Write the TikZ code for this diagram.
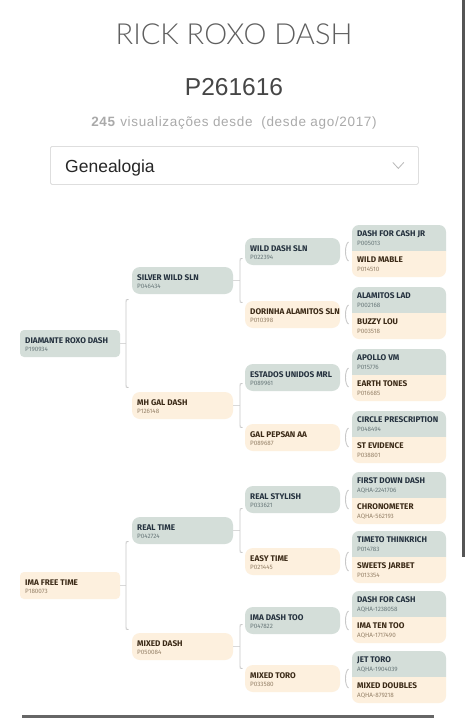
\documentclass[tikz,border=0pt]{standalone}
\usepackage{fontspec}
\setmainfont{Liberation Sans}
\newfontfamily\firafont{Fira Sans}
\newfontfamily\viewfont[LetterSpace=5]{Liberation Sans}
\IfFontExistsTF{Lato Light}{\newfontfamily\thinfont{Lato Light}}{\newfontfamily\thinfont{Liberation Sans}}
\usetikzlibrary{calc}
\definecolor{gg}{RGB}{212,222,217}
\definecolor{cr}{RGB}{253,240,222}
\definecolor{ggtext}{RGB}{37,50,63}
\definecolor{crtext}{RGB}{59,42,23}
\definecolor{ggcode}{RGB}{105,120,122}
\definecolor{crcode}{RGB}{150,130,105}
\definecolor{brkcol}{RGB}{200,200,200}
\definecolor{barcol}{RGB}{85,85,85}
\definecolor{titlecol}{RGB}{95,95,95}
\definecolor{regcol}{RGB}{70,70,70}
\definecolor{viewcol}{RGB}{170,170,170}
\definecolor{selborder}{RGB}{222,222,222}
\definecolor{chevcol}{RGB}{185,185,185}
\tikzset{
  box/.style={minimum height=27pt, inner sep=0pt, outer sep=0pt, draw=none},
  half/.style={minimum height=26pt, minimum width=94pt, inner sep=0pt, outer sep=0pt, draw=none},
  nm/.style={inner sep=0pt, font=\firafont\bfseries\fontsize{8.2}{8}\selectfont},
  cd/.style={inner sep=0pt, font=\firafont\fontsize{6.3}{6}\selectfont},
  brk/.style={draw=brkcol, line width=0.9pt},
  tick/.style={draw=brkcol!70, line width=0.7pt},
}
% single node: id, colour, x, ytop, width, radius, name, code
\newcommand\hnode[8]{%
  \node[box, fill=#2, rounded corners=#6pt, minimum width=#5pt, anchor=north west] (#1) at (#3,#4) {};
  \node[nm, text=#2text, anchor=base west] (#1n) at ($(#1.north west)+(5,13.5)$) {#7};
  \node[cd, text=#2code, anchor=base west] (#1c) at ($(#1.north west)+(5,21.5)$) {#8};
}
% pair: id, x, ytop, name1, code1, name2, code2
\newcommand\hpair[7]{%
  \node[half, anchor=north west] (#1a) at (#2,#3) {};
  \node[half, anchor=north west] (#1b) at (#2,#3+26) {};
  \fill[gg] (#1a.south west) -- ([yshift=-7pt]#1a.north west) arc[start angle=180, end angle=90, radius=7pt]
     -- ([xshift=-7pt]#1a.north east) arc[start angle=90, end angle=0, radius=7pt] -- (#1a.south east) -- cycle;
  \fill[cr] (#1b.north west) -- ([yshift=7pt]#1b.south west) arc[start angle=180, end angle=270, radius=7pt]
     -- ([xshift=-7pt]#1b.south east) arc[start angle=270, end angle=360, radius=7pt] -- (#1b.north east) -- cycle;
  \node[nm, text=ggtext, anchor=base west] (#1an) at ($(#1a.north west)+(5,11)$) {#4};
  \node[cd, text=ggcode, anchor=base west] (#1ac) at ($(#1a.north west)+(5,20)$) {#5};
  \node[nm, text=crtext, anchor=base west] (#1bn) at ($(#1b.north west)+(5,11)$) {#6};
  \node[cd, text=crcode, anchor=base west] (#1bc) at ($(#1b.north west)+(5,20)$) {#7};
}
% bracket: parent, dx, half height
\newcommand\hbrk[3]{%
  \draw[tick] (#1.east) -- ($(#1.east)+(#2,0)$);
  \draw[brk] ($(#1.east)+(#2+2.5,-#3)$) .. controls ($(#1.east)+(#2,-#3)$) .. ($(#1.east)+(#2,-#3+2.5)$)
     -- ($(#1.east)+(#2,#3-2.5)$) .. controls ($(#1.east)+(#2,#3)$) .. ($(#1.east)+(#2+2.5,#3)$);
}
% small brace: parent
\newcommand\hbrace[1]{%
  \draw[brk] ($(#1.east)+(8.5,-9.5)$) .. controls ($(#1.east)+(4.5,-7)$) and ($(#1.east)+(4.5,7)$) .. ($(#1.east)+(8.5,9.5)$);
}
\begin{document}
\begin{tikzpicture}[x=1pt, y=-1pt]
\useasboundingbox (0,0) rectangle (470,720);
\fill[white] (0,0) rectangle (470,720);

% header
\node[anchor=base, inner sep=0pt, text=titlecol, font=\thinfont\fontsize{29}{29}\selectfont] (title) at (234,44.5) {RICK ROXO DASH};
\node[anchor=base, inner sep=0pt, text=regcol, font=\fontsize{24.5}{24.5}\selectfont] (reg) at (234,95) {P261616};
\node[anchor=base, inner sep=0pt, text=viewcol, font=\viewfont\fontsize{13.5}{13.5}\selectfont] (views) at (234,126) {\textbf{245}\ visualizações desde\ \ (desde ago/2017)};
\node[draw=selborder, line width=0.8pt, rounded corners=1.5pt, minimum width=368pt, minimum height=38pt, inner sep=0pt, anchor=north west] (sel) at (50,146) {};
\node[anchor=base west, inner sep=0pt, text=black!85, font=\fontsize{17.5}{17.5}\selectfont] (selt) at (65,172) {Genealogia};
\draw[chevcol, line width=0.8pt] ($(sel.east)+(-26,-3)$) -- ($(sel.east)+(-20.5,3)$) -- ($(sel.east)+(-15,-3)$);

% frame bars
\draw[barcol, line width=3pt] (463,0) -- (463,557);
\draw[barcol!90, line width=3pt] (22,716) -- (434,716);

% generation 1
\hnode{d1}{gg}{20}{330}{100}{4}{DIAMANTE ROXO DASH}{P190934}
\hnode{d2}{cr}{20}{572}{100}{4}{IMA FREE TIME}{P180073}
% generation 2
\hnode{s1}{gg}{132}{267}{101}{8}{SILVER WILD SLN}{P046434}
\hnode{s2}{cr}{132}{392}{101}{8}{MH GAL DASH}{P126148}
\hnode{s3}{gg}{132}{517}{101}{8}{REAL TIME}{P042724}
\hnode{s4}{cr}{132}{633}{101}{8}{MIXED DASH}{P050084}
% generation 3
\hnode{t1}{gg}{245}{238}{95}{8}{WILD DASH SLN}{P022394}
\hnode{t2}{cr}{245}{301}{95}{8}{DORINHA ALAMITOS SLN}{P010398}
\hnode{t3}{gg}{245}{364}{95}{8}{ESTADOS UNIDOS MRL}{P089961}
\hnode{t4}{cr}{245}{424}{95}{8}{GAL PEPSAN AA}{P089687}
\hnode{t5}{gg}{245}{486}{95}{8}{REAL STYLISH}{P033621}
\hnode{t6}{cr}{245}{548}{95}{8}{EASY TIME}{P021445}
\hnode{t7}{gg}{245}{607}{95}{8}{IMA DASH TOO}{P047822}
\hnode{t8}{cr}{245}{665}{95}{8}{MIXED TORO}{P033580}
% generation 4
\hpair{p1}{352}{225}{DASH FOR CASH JR}{P005013}{WILD MABLE}{P014510}
\hpair{p2}{352}{287}{ALAMITOS LAD}{P002168}{BUZZY LOU}{P003518}
\hpair{p3}{352}{349}{APOLLO VM}{P015776}{EARTH TONES}{P016685}
\hpair{p4}{352}{411}{CIRCLE PRESCRIPTION}{P048494}{ST EVIDENCE}{P038801}
\hpair{p5}{352}{472}{FIRST DOWN DASH}{AQHA-2241706}{CHRONOMETER}{AQHA-562193}
\hpair{p6}{352}{531}{TIMETO THINKRICH}{P014783}{SWEETS JARBET}{P013354}
\hpair{p7}{352}{591}{DASH FOR CASH}{AQHA-1238058}{IMA TEN TOO}{AQHA-1717490}
\hpair{p8}{352}{651}{JET TORO}{AQHA-1904039}{MIXED DOUBLES}{AQHA-879218}

% brackets
\hbrk{d1}{6}{44}
\hbrk{d2}{6}{44}
\hbrk{s1}{7}{22}
\hbrk{s2}{7}{22}
\hbrk{s3}{7}{22}
\hbrk{s4}{7}{22}
\hbrace{t1}\hbrace{t2}\hbrace{t3}\hbrace{t4}
\hbrace{t5}\hbrace{t6}\hbrace{t7}\hbrace{t8}
\end{tikzpicture}
\end{document}
